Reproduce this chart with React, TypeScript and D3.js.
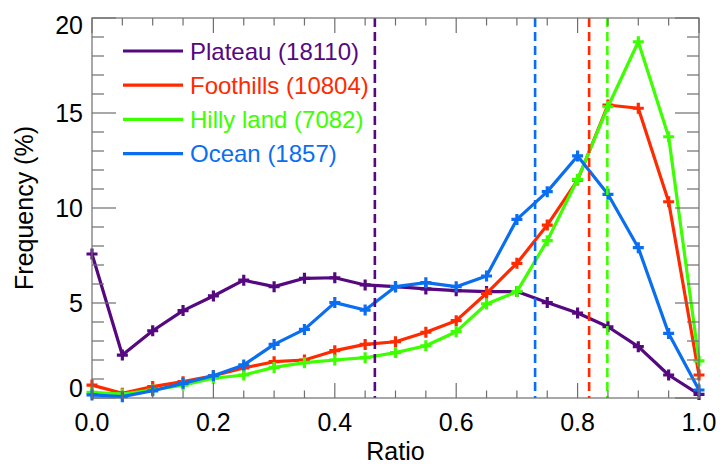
import React from "react";
import * as d3 from "d3";

const ratios = [0, 0.05, 0.1, 0.15, 0.2, 0.25, 0.3, 0.35, 0.4, 0.45, 0.5, 0.55, 0.6, 0.65, 0.7, 0.75, 0.8, 0.85, 0.9, 0.95, 1.0];
const plateau = [7.58, 2.26, 3.54, 4.6, 5.37, 6.2, 5.86, 6.3, 6.33, 5.95, 5.86, 5.74, 5.65, 5.6, 5.6, 5.02, 4.47, 3.75, 2.7, 1.21, 0.19];
const foothills = [0.68, 0.25, 0.6, 0.86, 1.17, 1.58, 1.91, 2.0, 2.49, 2.82, 2.96, 3.46, 4.07, 5.51, 7.09, 9.1, 11.47, 15.42, 15.25, 10.33, 1.21];
const hillyLand = [0.3, 0.21, 0.42, 0.68, 1.04, 1.21, 1.61, 1.86, 2.0, 2.12, 2.39, 2.75, 3.49, 4.95, 5.6, 8.28, 11.51, 15.33, 18.75, 13.75, 1.95];
const ocean = [0.16, 0.07, 0.38, 0.77, 1.17, 1.74, 2.82, 3.61, 5.02, 4.63, 5.86, 6.07, 5.86, 6.42, 9.4, 10.86, 12.74, 10.72, 7.91, 3.4, 0.42];

const seriesNames = ["Plateau (18110)", "Foothills (10804)", "Hilly land (7082)", "Ocean (1857)"];
const seriesValues = [plateau, foothills, hillyLand, ocean];
const seriesColors = ["#55087f", "#ff2a00", "#3cff00", "#0a6ef0"];
const meanRatios = [0.466, 0.819, 0.849, 0.73];

const xMajorTicks = [0, 0.2, 0.4, 0.6, 0.8, 1.0];
const yMajorTicks = [0, 5, 10, 15, 20];

const W = 720, H = 466;
const L = 92, R = 699, T = 18, B = 398;
const FONT = "'Liberation Sans', Arial, Helvetica, sans-serif";

export default function App() {
  const x = d3.scaleLinear().domain([0, 1]).range([L, R]);
  const y = d3.scaleLinear().domain([0, 20]).range([B, T]);
  const line = d3.line<number>().x((_, i) => x(ratios[i])).y((v) => y(v));
  const xMinor = d3.range(0, 21).map((i) => i * 0.05);
  const yMinor = d3.range(0, 21);
  const axisColor = "#6e6e6e";

  return (
    <svg width={W} height={H} style={{ position: "absolute", left: 0, top: 0, background: "#fff" }} fontFamily={FONT}>
      <rect x={0} y={0} width={W} height={H} fill="#fff" />
      {/* series */}
      {seriesValues.map((vals, s) => (
        <g key={s}>
          <path d={line(vals) || ""} fill="none" stroke={seriesColors[s]} strokeWidth={3.2} strokeLinejoin="round" />
          {vals.map((v, i) => (
            <path
              key={i}
              d={`M${x(ratios[i]) - 5.5},${y(v)}H${x(ratios[i]) + 5.5}M${x(ratios[i])},${y(v) - 5.5}V${y(v) + 5.5}`}
              stroke={seriesColors[s]}
              strokeWidth={3.2}
            />
          ))}
        </g>
      ))}
      {/* mean lines */}
      {meanRatios.map((m, s) => (
        <line key={s} x1={x(m)} x2={x(m)} y1={T} y2={B} stroke={seriesColors[s]} strokeWidth={2.6} strokeDasharray="9,5" />
      ))}
      {/* frame */}
      <rect x={L} y={T} width={R - L} height={B - T} fill="none" stroke={axisColor} strokeWidth={1.2} />
      {/* x ticks */}
      {xMinor.map((t, i) => {
        const major = xMajorTicks.some((m) => Math.abs(m - t) < 1e-6);
        const len = major ? 15 : 7.5;
        return (
          <g key={i} stroke={axisColor} strokeWidth={1.2}>
            <line x1={x(t)} x2={x(t)} y1={B} y2={B - len} />
            <line x1={x(t)} x2={x(t)} y1={T} y2={T + len} />
          </g>
        );
      })}
      {/* y ticks */}
      {yMinor.map((t, i) => {
        const major = yMajorTicks.includes(t);
        const len = major ? 24 : 12;
        return (
          <g key={i} stroke={axisColor} strokeWidth={1.2}>
            <line x1={L} x2={L + len} y1={y(t)} y2={y(t)} />
            <line x1={R} x2={R - len} y1={y(t)} y2={y(t)} />
          </g>
        );
      })}
      {/* x tick labels */}
      {xMajorTicks.map((t, i) => (
        <text key={i} x={x(t)} y={422} textAnchor="middle" dominantBaseline="central" fontSize={25} fill="#000">
          {d3.format(".1f")(t)}
        </text>
      ))}
      {/* y tick labels */}
      {yMajorTicks.map((t, i) => {
        const dy = t === 20 ? 7 : t === 0 ? -10 : 0;
        return (
          <text key={i} x={83} y={y(t) + dy} textAnchor="end" dominantBaseline="central" fontSize={25} fill="#000">
            {t}
          </text>
        );
      })}
      {/* axis titles */}
      <text x={(L + R) / 2} y={460} textAnchor="middle" fontSize={25} fill="#000">Ratio</text>
      <text transform={`translate(33,${(T + B) / 2}) rotate(-90)`} textAnchor="middle" fontSize={25} fill="#000">
        Frequency (%)
      </text>
      {/* legend */}
      {seriesNames.map((n, s) => {
        const ly = 51 + s * 34.2;
        return (
          <g key={s}>
            <line x1={123} x2={183} y1={ly} y2={ly} stroke={seriesColors[s]} strokeWidth={3.2} />
            <text x={190} y={ly} dominantBaseline="central" fontSize={24} fill={seriesColors[s]}>
              {n}
            </text>
          </g>
        );
      })}
    </svg>
  );
}
